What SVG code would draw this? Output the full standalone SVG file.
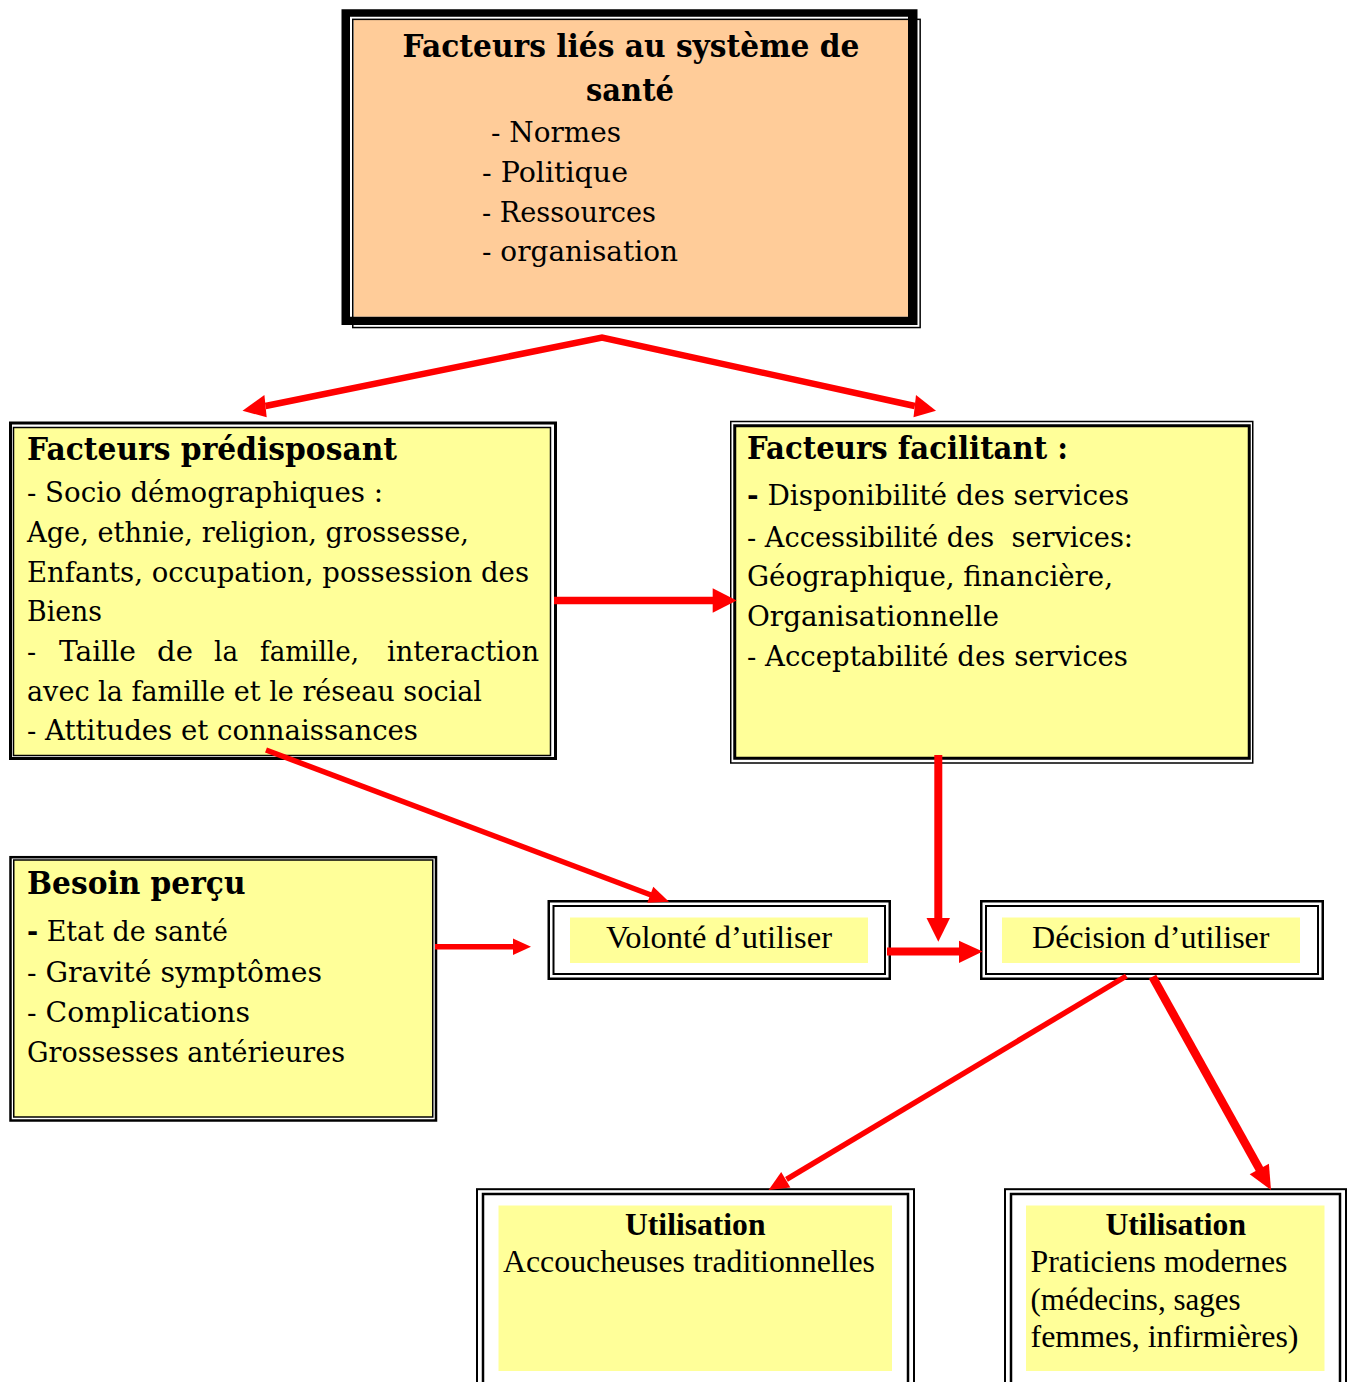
<svg xmlns="http://www.w3.org/2000/svg" width="1352" height="1382" viewBox="0 0 1352 1382">
<style>
.p{font-family:"DejaVu Serif","Liberation Serif",serif;font-size:27px;fill:#000}
.pb{font-family:"DejaVu Serif","Liberation Serif",serif;font-size:32px;font-weight:bold;fill:#000}
.t{font-family:"Liberation Serif","Times New Roman",serif;font-size:31px;fill:#000}
.tb{font-family:"Liberation Serif","Times New Roman",serif;font-size:31px;font-weight:bold;fill:#000}
.ln{fill:none;stroke:#000}
.yel{fill:#FFFF99}
.wh{fill:#fff}
.c{fill:none;stroke:#FF0000}
.h{fill:#FF0000}
</style>
<rect width="1352" height="1382" fill="#fff"/>

<g id="sante">
  <rect x="353.7" y="20" width="554.3" height="296.7" fill="#FFCC99"/>
  <rect class="ln" x="352.75" y="19.35" width="567.4" height="308.2" stroke-width="1.5"/>
  <path d="M341.5,9.3 H917.5 V325 H341.5 Z M350,16.7 V316.7 H908 V16.7 Z" fill="#000" fill-rule="evenodd"/>
  <text class="pb" x="402.5" y="57" textLength="457" lengthAdjust="spacingAndGlyphs">Facteurs liés au système de</text>
  <text class="pb" x="586" y="101" textLength="88" lengthAdjust="spacingAndGlyphs">santé</text>
  <text class="p" x="491" y="142" textLength="130" lengthAdjust="spacingAndGlyphs">- Normes</text>
  <text class="p" x="482" y="182" textLength="146" lengthAdjust="spacingAndGlyphs">- Politique</text>
  <text class="p" x="482" y="222" textLength="174" lengthAdjust="spacingAndGlyphs">- Ressources</text>
  <text class="p" x="482" y="261" textLength="196" lengthAdjust="spacingAndGlyphs">- organisation</text>
</g>

<g id="predisposant">
  <rect class="ln wh" x="10.5" y="423" width="545" height="335.5" stroke-width="3"/>
  <rect class="ln yel" x="13.5" y="427.5" width="537" height="328" stroke-width="1.5"/>
  <text class="pb" x="27" y="460" textLength="370" lengthAdjust="spacingAndGlyphs">Facteurs prédisposant</text>
  <text class="p" x="27" y="502" textLength="356" lengthAdjust="spacingAndGlyphs">- Socio démographiques :</text>
  <text class="p" x="27" y="542" textLength="442" lengthAdjust="spacingAndGlyphs">Age, ethnie, religion, grossesse,</text>
  <text class="p" x="27" y="581.5" textLength="502" lengthAdjust="spacingAndGlyphs">Enfants, occupation, possession des</text>
  <text class="p" x="27" y="621" textLength="75" lengthAdjust="spacingAndGlyphs">Biens</text>
  <text class="p" y="661"><tspan x="27">-</tspan><tspan x="59" textLength="77" lengthAdjust="spacingAndGlyphs">Taille</tspan><tspan x="157" textLength="36" lengthAdjust="spacingAndGlyphs">de</tspan><tspan x="214" textLength="24" lengthAdjust="spacingAndGlyphs">la</tspan><tspan x="260" textLength="99" lengthAdjust="spacingAndGlyphs">famille,</tspan><tspan x="387" textLength="152" lengthAdjust="spacingAndGlyphs">interaction</tspan></text>
  <text class="p" x="27" y="701" textLength="455" lengthAdjust="spacingAndGlyphs">avec la famille et le réseau social</text>
  <text class="p" x="27" y="740" textLength="391" lengthAdjust="spacingAndGlyphs">- Attitudes et connaissances</text>
</g>

<g id="facilitant">
  <rect class="ln wh" x="730.75" y="421.5" width="522" height="341.5" stroke-width="1.5"/>
  <rect class="ln yel" x="734.75" y="425.75" width="514.5" height="332.5" stroke-width="3"/>
  <text class="pb" x="747" y="459" textLength="321" lengthAdjust="spacingAndGlyphs">Facteurs facilitant :</text>
  <text class="p" x="747" y="505" textLength="382" lengthAdjust="spacingAndGlyphs"><tspan font-weight="bold">-</tspan> Disponibilité des services</text>
  <text class="p" x="747" y="546.5" textLength="386" lengthAdjust="spacingAndGlyphs" xml:space="preserve">- Accessibilité des  services:</text>
  <text class="p" x="747" y="585.5" textLength="366" lengthAdjust="spacingAndGlyphs">Géographique, financière,</text>
  <text class="p" x="747" y="625.5" textLength="252" lengthAdjust="spacingAndGlyphs">Organisationnelle</text>
  <text class="p" x="747" y="665.5" textLength="381" lengthAdjust="spacingAndGlyphs">- Acceptabilité des services</text>
</g>

<g id="besoin">
  <rect class="ln wh" x="10.5" y="857.2" width="425.5" height="263.3" stroke-width="2.5"/>
  <rect class="ln yel" x="13.75" y="860" width="419" height="257" stroke-width="1.5"/>
  <text class="pb" x="27" y="894" textLength="218.5" lengthAdjust="spacingAndGlyphs">Besoin perçu</text>
  <text class="p" x="27" y="941" textLength="201" lengthAdjust="spacingAndGlyphs"><tspan font-weight="bold">-</tspan> Etat de santé</text>
  <text class="p" x="27" y="981.5" textLength="295" lengthAdjust="spacingAndGlyphs">- Gravité symptômes</text>
  <text class="p" x="27" y="1021.5" textLength="223" lengthAdjust="spacingAndGlyphs">- Complications</text>
  <text class="p" x="27" y="1061.5" textLength="318" lengthAdjust="spacingAndGlyphs">Grossesses antérieures</text>
</g>

<g id="volonte">
  <rect class="ln wh" x="548.75" y="901.25" width="341" height="77.5" stroke-width="2.5"/>
  <rect class="ln wh" x="553.5" y="906" width="331.5" height="68" stroke-width="2"/>
  <rect class="yel" x="570" y="917.5" width="298" height="45.5"/>
  <text class="t" x="606" y="947.5" textLength="226" lengthAdjust="spacingAndGlyphs">Volonté d’utiliser</text>
</g>

<g id="decision">
  <rect class="ln wh" x="981.25" y="901.25" width="341.5" height="77.5" stroke-width="2.5"/>
  <rect class="ln wh" x="986" y="906" width="332" height="68" stroke-width="2"/>
  <rect class="yel" x="1002" y="917.5" width="298" height="45.5"/>
  <text class="t" x="1032" y="947.5" textLength="237.5" lengthAdjust="spacingAndGlyphs">Décision d’utiliser</text>
</g>

<g id="utilisation-traditionnelle">
  <rect class="ln wh" x="477" y="1189.2" width="437" height="260" stroke-width="2"/>
  <rect class="ln wh" x="483" y="1194" width="425" height="260" stroke-width="2.5"/>
  <rect class="yel" x="498.5" y="1205.5" width="393.5" height="165.5"/>
  <text class="tb" x="625" y="1235" textLength="140.5" lengthAdjust="spacingAndGlyphs">Utilisation</text>
  <text class="t" x="503" y="1272" textLength="372" lengthAdjust="spacingAndGlyphs">Accoucheuses traditionnelles</text>
</g>

<g id="utilisation-moderne">
  <rect class="ln wh" x="1005" y="1189.2" width="341" height="260" stroke-width="2"/>
  <rect class="ln wh" x="1011" y="1194" width="329" height="260" stroke-width="2.5"/>
  <rect class="yel" x="1026" y="1205.5" width="298.5" height="165.5"/>
  <text class="tb" x="1105.5" y="1235" textLength="140.5" lengthAdjust="spacingAndGlyphs">Utilisation</text>
  <text class="t" x="1030.5" y="1272" textLength="257" lengthAdjust="spacingAndGlyphs">Praticiens modernes</text>
  <text class="t" x="1030.5" y="1309.5">(médecins, sages</text>
  <text class="t" x="1030.5" y="1346.5" textLength="268" lengthAdjust="spacingAndGlyphs">femmes, infirmières)</text>
</g>

<g id="connectors">
  <path class="c" d="M265.5,406 L602,337.5 L914.8,406" stroke-width="6.5" stroke-linejoin="miter"/>
  <polygon class="h" points="242.5,410.7 264.4,395 266.7,417.3"/>
  <polygon class="h" points="936,410.7 916,395 913.5,417.3"/>
  <path class="c" d="M554,600.5 H714" stroke-width="7.5"/>
  <polygon class="h" points="712.7,588.3 736.7,600.5 712.7,612.7"/>
  <path class="c" d="M266,750 L651,895" stroke-width="5.5"/>
  <polygon class="h" points="647.3,902.7 669,901.7 653.3,886.7"/>
  <path class="c" d="M938.3,755 V919" stroke-width="8"/>
  <polygon class="h" points="926.5,918 938.3,941.7 950,918"/>
  <path class="c" d="M435,946.7 H514" stroke-width="5.5"/>
  <polygon class="h" points="513,938.4 531,946.7 513,955"/>
  <path class="c" d="M887,951.5 H960" stroke-width="8"/>
  <polygon class="h" points="959,940.7 982.7,951.5 959,963"/>
  <path class="c" d="M1126.4,976 L786.5,1179.3" stroke-width="5.5"/>
  <polygon class="h" points="790.4,1187.4 768.6,1190 781.2,1172"/>
  <path class="c" d="M1152.5,976.7 L1260,1170" stroke-width="8.5"/>
  <polygon class="h" points="1249.7,1174.3 1271,1190 1268.9,1163.7"/>
</g>
</svg>
